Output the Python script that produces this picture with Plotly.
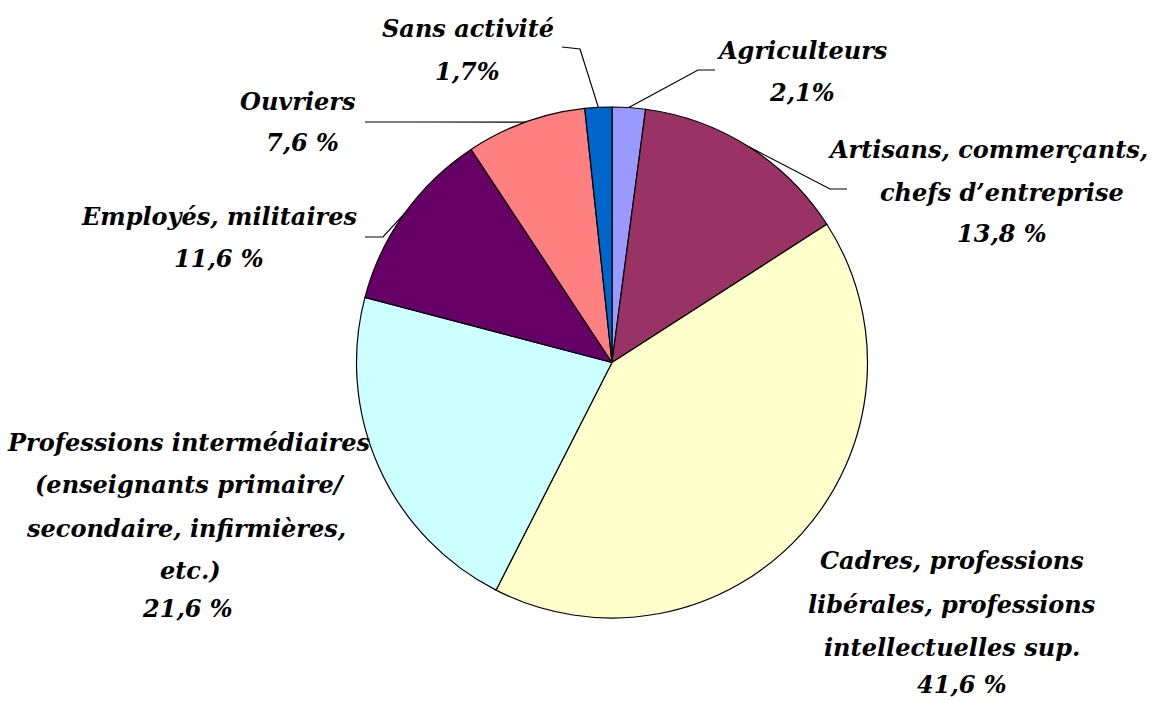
import math
import plotly.graph_objects as go

# ---- data ----
categories = ["Agriculteurs", "Artisans, commerçants, chefs d’entreprise",
              "Cadres, professions libérales, professions intellectuelles sup.",
              "Professions intermédiaires (enseignants primaire/ secondaire, infirmières, etc.)",
              "Employés, militaires", "Ouvriers", "Sans activité"]
values = [2.1, 13.8, 41.6, 21.6, 11.6, 7.6, 1.7]
value_labels = ["2,1%", "13,8 %", "41,6 %", "21,6 %", "11,6 %", "7,6 %", "1,7%"]
label_lines = [
    ["Agriculteurs"],
    ["Artisans, commerçants,", "chefs d’entreprise"],
    ["Cadres, professions", "libérales, professions", "intellectuelles sup."],
    ["Professions intermédiaires", "(enseignants primaire/", "secondaire, infirmières,", "etc.)"],
    ["Employés, militaires"],
    ["Ouvriers"],
    ["Sans activité"],
]
colors = ["#9999FF", "#993366", "#FFFFCC", "#CCFFFF", "#660066", "#FF8080", "#0066CC"]

# ---- layout (pixels) ----
W, H = 1161, 702
CX, CY, R = 612, 362.5, 255.5
# per-category: center x of each line, y of each line (text lines then value line)
label_pos = [
    ([802, 802], [50, 93]),
    ([988, 1002, 1002], [149, 192, 234]),
    ([952, 952, 952, 962], [560, 604, 647, 684]),
    ([188, 190, 186, 190, 187], [442, 485, 528, 570, 608]),
    ([219, 219], [216, 259]),
    ([298, 302], [101, 142]),
    ([468, 467], [28, 71]),
]
# leader lines: label end point, elbow point (None = no leader)
leaders = [
    ((715, 70), (698, 70)),
    ((847, 189), (830, 189)),
    None,
    None,
    ((365, 237), (383, 237)),
    ((365, 122), (420, 122)),
    ((562, 47), (580, 49)),
]


def px(x):
    return x / W


def py(y):
    return 1 - y / H


fig = go.Figure(go.Pie(
    labels=categories, values=values, sort=False, direction="clockwise",
    rotation=0, marker=dict(colors=colors, line=dict(color="black", width=1.2)),
    textinfo="none", hoverinfo="label+percent", showlegend=False,
    domain=dict(x=[px(CX - R), px(CX + R)], y=[py(CY + R), py(CY - R)]),
))

font = dict(family="DejaVu Serif", size=24,
            color="black", weight="bold", style="italic")
annotations = []
for i, (xs, ys) in enumerate(label_pos):
    lines = label_lines[i] + [value_labels[i]]
    for t, x, y in zip(lines, xs, ys):
        annotations.append(dict(x=px(x), y=py(y), xref="paper", yref="paper",
                                text=t, showarrow=False, font=font,
                                xanchor="center", yanchor="middle"))

shapes = []
total = sum(values)
cum = 0
for i, v in enumerate(values):
    mid = (cum + v / 2) / total * 2 * math.pi
    cum += v
    if leaders[i] is None:
        continue
    (x0, y0), (x1, y1) = leaders[i]
    ex = CX + R * math.sin(mid)
    ey = CY - R * math.cos(mid)
    path = f"M {px(x0)},{py(y0)} L {px(x1)},{py(y1)} L {px(ex)},{py(ey)}"
    shapes.append(dict(type="path", path=path, xref="paper", yref="paper",
                       line=dict(color="black", width=1.2)))

fig.update_layout(
    width=W, height=H, margin=dict(l=0, r=0, t=0, b=0),
    paper_bgcolor="white", plot_bgcolor="white",
    annotations=annotations, shapes=shapes,
)
fig.write_html("out.html", config={"displayModeBar": False}, post_script=(
    "document.body.style.margin='0';"
    "document.documentElement.style.overflow='hidden';"))
